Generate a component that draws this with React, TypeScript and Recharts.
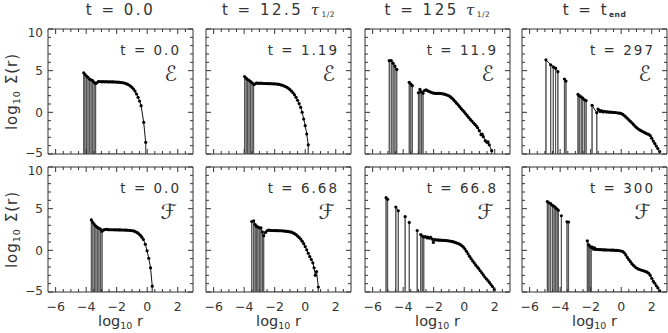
import { Line, LineChart, ReferenceArea, XAxis, YAxis } from "recharts"

type Pt = [number, number]

// axes (log10 r, log10 Sigma)
const X_DOMAIN: [number, number] = [-6.5, 3]
const Y_DOMAIN: [number, number] = [-5, 10]
const X_MAJOR = [-6, -4, -2, 0, 2]
const X_TICKS = [-6, -5.5, -5, -4.5, -4, -3.5, -3, -2.5, -2, -1.5, -1, -0.5, 0, 0.5, 1, 1.5, 2, 2.5]
const Y_MAJOR = [-5, 0, 5, 10]
const Y_TICKS = [-5, -4, -3, -2, -1, 0, 1, 2, 3, 4, 5, 6, 7, 8, 9, 10]

const TITLE_MAIN = ["t = 0.0", "t = 12.5 ", "t = 125 ", "t = t"]
const TITLE_TAU = [false, true, true, false]
const TITLE_SUB = ["", "1/2", "1/2", "end"]
const E_TIMES = ["0.0", "1.19", "11.9", "297"]
const F_TIMES = ["0.0", "6.68", "66.8", "300"]
const ROW_LETTERS = ["\u2130", "\u2131"]

// sparse bins (drawn with stems to the floor), grouped in runs
const E0_SPIKES: Pt[][] = [
  [[-4.16, 4.75], [-4.08, 4.55], [-3.98, 4.35], [-3.88, 4.2], [-3.78, 4.0], [-3.68, 3.9], [-3.58, 3.82], [-3.48, 3.6], [-3.38, 3.45]],
]
const E0_CURVE: Pt[] = [
  [-3.3, 3.55], [-3.2, 3.68], [-3.1, 3.7], [-3.0, 3.66], [-2.9, 3.68], [-2.8, 3.66], [-2.7, 3.68], [-2.6, 3.66],
  [-2.5, 3.66], [-2.4, 3.66], [-2.3, 3.65], [-2.2, 3.65], [-2.1, 3.64], [-2.0, 3.63], [-1.9, 3.62], [-1.8, 3.6],
  [-1.7, 3.58], [-1.6, 3.55], [-1.5, 3.52], [-1.4, 3.45], [-1.3, 3.38], [-1.2, 3.28], [-1.1, 3.15], [-1.0, 3.0],
  [-0.9, 2.8], [-0.8, 2.55], [-0.7, 2.2], [-0.6, 1.8], [-0.5, 1.35], [-0.4, 0.8], [-0.23, -1.2], [-0.1, -3.6],
]

const E1_SPIKES: Pt[][] = [
  [[-3.97, 4.3], [-3.87, 4.1], [-3.78, 3.95], [-3.68, 3.85], [-3.58, 3.7], [-3.48, 3.55], [-3.38, 3.35]],
]
const E1_CURVE: Pt[] = [
  [-3.3, 3.4], [-3.2, 3.5], [-3.1, 3.5], [-3.0, 3.48], [-2.9, 3.5], [-2.8, 3.47], [-2.7, 3.46], [-2.6, 3.46],
  [-2.5, 3.45], [-2.4, 3.45], [-2.3, 3.44], [-2.2, 3.43], [-2.1, 3.42], [-2.0, 3.42], [-1.9, 3.4], [-1.8, 3.38],
  [-1.7, 3.35], [-1.6, 3.3], [-1.5, 3.25], [-1.4, 3.18], [-1.3, 3.1], [-1.2, 3.0], [-1.1, 2.88], [-1.0, 2.72],
  [-0.9, 2.55], [-0.8, 2.35], [-0.7, 2.1], [-0.6, 1.8], [-0.5, 1.45], [-0.4, 1.05], [-0.3, 0.6], [-0.2, 0.0],
  [-0.1, -0.8], [0.0, -1.6], [0.1, -2.6], [0.2, -3.9],
]

const E2_SPIKES: Pt[][] = [
  [[-4.91, 6.2], [-4.78, 6.22], [-4.66, 5.9], [-4.54, 5.55], [-4.42, 5.15]],
  [[-3.6, 3.6], [-3.5, 3.4], [-3.4, 3.2]],
  [[-3.0, 2.35], [-2.9, 2.75], [-2.8, 2.45], [-2.7, 2.3]],
]
const E2_CURVE: Pt[] = [
  [-2.6, 2.62], [-2.5, 2.7], [-2.4, 2.6], [-2.3, 2.5], [-2.2, 2.42], [-2.1, 2.35], [-2.0, 2.3], [-1.9, 2.28],
  [-1.8, 2.28], [-1.7, 2.27], [-1.6, 2.27], [-1.5, 2.25], [-1.4, 2.22], [-1.3, 2.18], [-1.2, 2.12], [-1.1, 2.05],
  [-1.0, 1.98], [-0.9, 1.85], [-0.8, 1.7], [-0.7, 1.52], [-0.6, 1.32], [-0.5, 1.1], [-0.4, 0.9], [-0.3, 0.68],
  [-0.2, 0.45], [-0.1, 0.25], [0.0, 0.05], [0.1, -0.18], [0.2, -0.4], [0.3, -0.62], [0.4, -0.85], [0.5, -1.05],
  [0.6, -1.25], [0.7, -1.45], [0.8, -1.65], [0.88, -1.85], [0.99, -2.2], [1.1, -2.68], [1.18, -2.6], [1.25, -2.92],
  [1.38, -3.4], [1.49, -3.6], [1.56, -3.55], [1.64, -3.9], [1.8, -4.6],
]

const E3_SPIKES: Pt[][] = [
  [[-4.93, 6.3], [-4.62, 5.7], [-4.45, 5.45], [-4.3, 5.3], [-4.15, 4.88]],
  [[-3.72, 4.0], [-3.62, 3.75]],
  [[-2.83, 2.15], [-2.75, 2.0], [-2.62, 1.85], [-2.52, 1.7], [-2.4, 1.5], [-2.3, 1.42]],
  [[-1.91, 0.85], [-1.6, -0.05]],
]
const E3_CURVE: Pt[] = [
  [-1.52, 0.4], [-1.45, 0.25], [-1.38, 0.1], [-1.3, 0.2], [-1.2, 0.05], [-1.1, 0.12], [-1.0, 0.05], [-0.9, 0.05],
  [-0.8, 0.03], [-0.7, 0.02], [-0.6, 0.0], [-0.5, 0.0], [-0.4, -0.02], [-0.3, -0.05], [-0.2, -0.08], [-0.1, -0.1],
  [0.0, -0.15], [0.1, -0.25], [0.2, -0.38], [0.3, -0.55], [0.4, -0.72], [0.5, -0.9], [0.6, -1.08], [0.7, -1.25],
  [0.8, -1.45], [0.9, -1.65], [1.0, -1.82], [1.1, -1.98], [1.2, -2.1], [1.3, -2.2], [1.4, -2.3], [1.5, -2.4],
  [1.6, -2.5], [1.7, -2.58], [1.8, -2.65], [1.9, -2.8], [2.0, -3.1], [2.1, -3.45], [2.2, -3.75], [2.3, -4.05],
  [2.4, -4.35], [2.52, -4.7],
]

const F0_SPIKES: Pt[][] = [
  [[-3.66, 3.65], [-3.56, 3.35], [-3.46, 3.1], [-3.36, 2.9], [-3.26, 2.75], [-3.16, 2.65], [-3.06, 2.55], [-2.96, 2.3]],
]
const F0_CURVE: Pt[] = [
  [-2.85, 2.45], [-2.75, 2.5], [-2.65, 2.52], [-2.55, 2.48], [-2.45, 2.47], [-2.35, 2.47], [-2.25, 2.47], [-2.15, 2.46],
  [-2.05, 2.46], [-1.95, 2.46], [-1.85, 2.45], [-1.75, 2.45], [-1.65, 2.44], [-1.55, 2.44], [-1.45, 2.43], [-1.35, 2.42],
  [-1.25, 2.41], [-1.15, 2.4], [-1.05, 2.38], [-0.95, 2.35], [-0.85, 2.3], [-0.75, 2.22], [-0.65, 2.12], [-0.55, 1.98],
  [-0.45, 1.8], [-0.35, 1.58], [-0.25, 1.3], [-0.12, 0.72], [-0.01, -0.05], [0.1, -0.95], [0.22, -2.1], [0.33, -4.3],
]

const F1_SPIKES: Pt[][] = [
  [[-3.5, 3.45], [-3.38, 3.55], [-3.28, 3.1], [-3.2, 2.9], [-3.1, 2.8], [-3.0, 2.7], [-2.9, 2.7], [-2.8, 2.2], [-2.72, 1.75]],
]
const F1_CURVE: Pt[] = [
  [-2.6, 2.15], [-2.5, 2.35], [-2.4, 2.42], [-2.3, 2.4], [-2.2, 2.38], [-2.1, 2.38], [-2.0, 2.37], [-1.9, 2.37],
  [-1.8, 2.36], [-1.7, 2.35], [-1.6, 2.35], [-1.5, 2.34], [-1.4, 2.32], [-1.3, 2.3], [-1.2, 2.28], [-1.1, 2.25],
  [-1.0, 2.22], [-0.9, 2.18], [-0.8, 2.1], [-0.7, 2.0], [-0.6, 1.88], [-0.5, 1.72], [-0.4, 1.55], [-0.3, 1.35],
  [-0.2, 1.1], [-0.1, 0.8], [0.0, 0.45], [0.1, 0.05], [0.2, -0.35], [0.3, -0.75], [0.4, -1.1], [0.5, -1.5],
  [0.58, -2.1], [0.66, -3.0], [0.74, -2.55], [0.86, -4.4],
]

const F2_SPIKES: Pt[][] = [
  [[-5.12, 6.32], [-5.02, 6.12]],
  [[-4.48, 5.2], [-4.32, 4.75]],
  [[-3.87, 4.05]],
  [[-3.6, 3.35]],
  [[-3.08, 2.38]],
  [[-2.85, 1.9], [-2.75, 1.72], [-2.65, 1.6]],
]
const F2_CURVE: Pt[] = [
  [-2.55, 1.65], [-2.45, 1.5], [-2.38, 1.58], [-2.3, 1.45], [-2.2, 1.55], [-2.1, 1.35], [-2.02, 0.95], [-1.95, 1.3],
  [-1.85, 1.25], [-1.75, 1.25], [-1.65, 1.22], [-1.55, 1.22], [-1.45, 1.2], [-1.35, 1.2], [-1.25, 1.18], [-1.15, 1.16],
  [-1.05, 1.14], [-0.95, 1.12], [-0.85, 1.08], [-0.75, 1.04], [-0.65, 0.98], [-0.55, 0.92], [-0.45, 0.85], [-0.35, 0.78],
  [-0.25, 0.68], [-0.15, 0.55], [-0.05, 0.38], [0.05, 0.15], [0.15, -0.12], [0.25, -0.42], [0.35, -0.72], [0.45, -1.0],
  [0.55, -1.25], [0.65, -1.5], [0.75, -1.75], [0.85, -1.98], [0.95, -2.2], [1.05, -2.45], [1.15, -2.7], [1.25, -2.95],
  [1.35, -3.2], [1.45, -3.42], [1.55, -3.62], [1.65, -3.85], [1.75, -4.1], [1.85, -4.35], [1.97, -4.7],
]

const F3_SPIKES: Pt[][] = [
  [[-4.84, 5.85], [-4.74, 5.7], [-4.62, 5.6], [-4.5, 5.4], [-4.4, 5.28], [-4.3, 5.12], [-4.2, 4.95], [-4.12, 4.8]],
  [[-3.92, 4.15]],
  [[-3.55, 3.42], [-3.45, 3.4]],
  [[-2.22, 1.15], [-2.13, 0.65], [-2.05, 0.5], [-1.97, 0.35]],
]
const F3_CURVE: Pt[] = [
  [-1.9, 0.4], [-1.82, 0.15], [-1.75, 0.3], [-1.68, 0.1], [-1.6, 0.12], [-1.5, 0.1], [-1.4, 0.08], [-1.3, 0.08],
  [-1.2, 0.06], [-1.1, 0.05], [-1.0, 0.05], [-0.9, 0.04], [-0.8, 0.04], [-0.7, 0.03], [-0.6, 0.02], [-0.5, 0.02],
  [-0.4, 0.0], [-0.3, 0.0], [-0.2, -0.02], [-0.1, -0.05], [0.0, -0.08], [0.1, -0.15], [0.2, -0.3], [0.3, -0.55],
  [0.4, -0.85], [0.5, -1.1], [0.6, -1.35], [0.7, -1.6], [0.8, -1.8], [0.9, -1.98], [1.0, -2.12], [1.1, -2.22],
  [1.2, -2.3], [1.3, -2.36], [1.4, -2.42], [1.5, -2.48], [1.6, -2.55], [1.7, -2.62], [1.8, -2.75], [1.9, -3.0],
  [2.0, -3.35], [2.1, -3.7], [2.2, -3.95], [2.3, -4.25], [2.4, -4.5], [2.52, -4.85],
]

const ROWS = [
  [[E0_SPIKES, E0_CURVE], [E1_SPIKES, E1_CURVE], [E2_SPIKES, E2_CURVE], [E3_SPIKES, E3_CURVE]],
  [[F0_SPIKES, F0_CURVE], [F1_SPIKES, F1_CURVE], [F2_SPIKES, F2_CURVE], [F3_SPIKES, F3_CURVE]],
] as [Pt[][], Pt[]][][]

// layout
const PLOT_W = 145
const PLOT_H = 125
const COL_LEFT = [48, 206, 365, 522]
const ROW_TOP = [29, 167]
// axes need 1px of room or recharts skips them; margins absorb it
const M = { top: 8, right: 8, bottom: 39, left: 44 }
const FONT = "'DejaVu Sans', 'Liberation Sans', sans-serif"
const INK = "#333"
const FLOOR = Y_DOMAIN[0]

const fmt = (v: number) => (v < 0 ? `\u2212${Math.abs(v)}` : `${v}`)

// runs are joined by one line; a null breaks it between runs
function lineRows(spikes: Pt[][], curve: Pt[]) {
  const rows: { x: number; y: number | null }[] = []
  spikes.forEach((run, i) => {
    run.forEach(([x, y]) => rows.push({ x, y }))
    if (i < spikes.length - 1) rows.push({ x: run[run.length - 1][0], y: null })
  })
  curve.forEach(([x, y]) => rows.push({ x, y }))
  return rows
}

// empty bins -> log of zero, drawn down to the floor
function stemRows(spikes: Pt[][], curve: Pt[]) {
  const pts = [...spikes.flat(), curve[curve.length - 1]]
  return pts.flatMap(([x, y]) => [
    { x, y: FLOOR },
    { x, y },
    { x, y: FLOOR },
  ])
}

function XTick(props: any) {
  const { x, y, payload, showLabel } = props
  const v = payload.value as number
  const major = X_MAJOR.includes(v)
  const len = major ? 5 : 3
  return (
    <g>
      <line x1={x} x2={x} y1={y} y2={y - len} stroke={INK} />
      <line x1={x} x2={x} y1={y - PLOT_H} y2={y - PLOT_H + len} stroke={INK} />
      {major && showLabel && (
        <text x={x} y={y + 19} textAnchor="middle" fontSize={12.5} fill={INK} fontFamily={FONT}>
          {fmt(v)}
        </text>
      )}
    </g>
  )
}

function YTick(props: any) {
  const { x, y, payload, showLabel } = props
  const v = payload.value as number
  const major = Y_MAJOR.includes(v)
  const len = major ? 5 : 3
  // end labels sit a little inside the frame, as in the original
  const nudge = v === Y_DOMAIN[1] ? 3 : v === Y_DOMAIN[0] ? -2 : 0
  return (
    <g>
      <line x1={x} x2={x + len} y1={y} y2={y} stroke={INK} />
      <line x1={x + PLOT_W} x2={x + PLOT_W - len} y1={y} y2={y} stroke={INK} />
      {major && showLabel && (
        <text x={x - 5} y={y + 4.5 + nudge} textAnchor="end" fontSize={12} fill={INK} fontFamily={FONT}>
          {fmt(v)}
        </text>
      )}
    </g>
  )
}

function Panel({ row, col, spikes, curve }: { row: number; col: number; spikes: Pt[][]; curve: Pt[] }) {
  return (
    <div style={{ position: "absolute", left: COL_LEFT[col] - M.left - 1, top: ROW_TOP[row] - M.top }}>
      <LineChart width={PLOT_W + M.left + M.right + 1} height={PLOT_H + M.top + M.bottom + 1} margin={M}>
        <XAxis
          type="number"
          dataKey="x"
          domain={X_DOMAIN}
          allowDataOverflow
          ticks={X_TICKS}
          interval={0}
          height={1}
          tickSize={0}
          tickMargin={0}
          axisLine={false}
          tickLine={false}
          tick={(p: any) => <XTick {...p} showLabel={row === 1} />}
        />
        <YAxis
          type="number"
          domain={Y_DOMAIN}
          allowDataOverflow
          ticks={Y_TICKS}
          interval={0}
          width={1}
          tickSize={0}
          tickMargin={0}
          axisLine={false}
          tickLine={false}
          tick={(p: any) => <YTick {...p} showLabel={col === 0} />}
        />
        <Line
          data={stemRows(spikes, curve)}
          dataKey="y"
          stroke="#555"
          strokeWidth={1}
          dot={false}
          isAnimationActive={false}
        />
        <Line
          data={lineRows(spikes, curve)}
          dataKey="y"
          stroke="#111"
          strokeWidth={1}
          dot={{ r: 1.6, fill: "#000", stroke: "none" }}
          connectNulls={false}
          isAnimationActive={false}
        />
        <ReferenceArea
          x1={X_DOMAIN[0]}
          x2={X_DOMAIN[1]}
          y1={Y_DOMAIN[0]}
          y2={Y_DOMAIN[1]}
          fill="none"
          stroke={INK}
          strokeWidth={1}
        />
      </LineChart>
    </div>
  )
}

export default function App() {
  return (
    <div style={{ position: "fixed", left: 0, top: 0, width: 668, height: 333, background: "#fff" }}>
      {ROWS.map((cols, r) =>
        cols.map(([spikes, curve], c) => <Panel key={`${r}-${c}`} row={r} col={c} spikes={spikes} curve={curve} />)
      )}
      <svg width={668} height={333} style={{ position: "absolute", left: 0, top: 0, pointerEvents: "none" }}>
        <g fontFamily={FONT} fill={INK}>
          {TITLE_MAIN.map((t, c) => (
            <text key={t} x={COL_LEFT[c] + PLOT_W / 2} y={15} textAnchor="middle" fontSize={15} letterSpacing={2.5}>
              {t}
              {TITLE_TAU[c] && <tspan fontStyle="italic" fontFamily="'DejaVu Serif', serif">τ</tspan>}
              {TITLE_SUB[c] && (
                <tspan fontSize={7.5} dy={2} letterSpacing={0.5} fontWeight={TITLE_TAU[c] ? "normal" : "bold"}>
                  {TITLE_SUB[c]}
                </tspan>
              )}
            </text>
          ))}
          {[E_TIMES, F_TIMES].map((times, r) =>
            times.map((t, c) => (
              <g key={`lab-${r}-${c}`}>
                <text
                  x={COL_LEFT[c] + PLOT_W - 12}
                  y={ROW_TOP[r] + 26}
                  textAnchor="end"
                  fontSize={13.5}
                  letterSpacing={2}
                >
                  {`t = ${t}`}
                </text>
                <text
                  x={COL_LEFT[c] + PLOT_W - 16}
                  y={ROW_TOP[r] + 52}
                  textAnchor="end"
                  fontSize={21}
                  fontFamily="'DejaVu Serif', 'DejaVu Sans', serif"
                >
                  {ROW_LETTERS[r]}
                </text>
              </g>
            ))
          )}
          {ROW_TOP.map((top) => (
            <text
              key={`yl-${top}`}
              transform={`translate(17, ${top + PLOT_H / 2}) rotate(-90)`}
              textAnchor="middle"
              fontSize={15}
              letterSpacing={1}
            >
              log
              <tspan fontSize={9.5} dy={3}>10</tspan>
              <tspan dy={-3}> Σ(r)</tspan>
            </text>
          ))}
          {COL_LEFT.map((left) => (
            <text key={`xl-${left}`} x={left + PLOT_W / 2} y={326} textAnchor="middle" fontSize={14.5}>
              log
              <tspan fontSize={9.5} dy={3}>10</tspan>
              <tspan dy={-3}> r</tspan>
            </text>
          ))}
        </g>
      </svg>
    </div>
  )
}
